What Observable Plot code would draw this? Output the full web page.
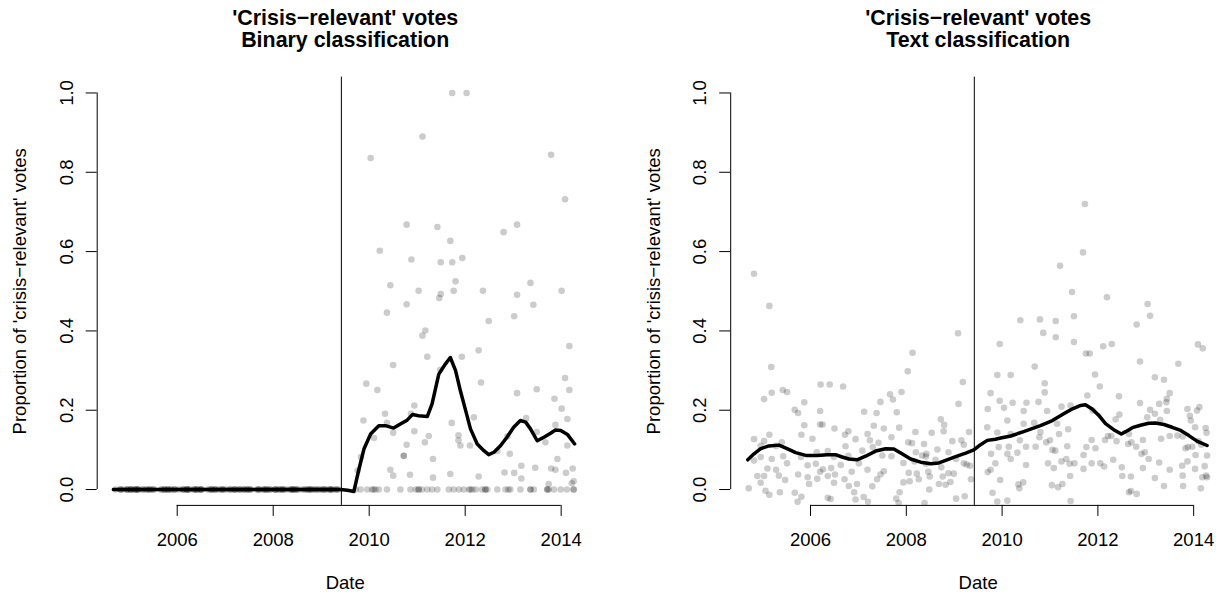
<!DOCTYPE html>
<html>
<head>
<meta charset="utf-8">
<script src="https://cdn.jsdelivr.net/npm/d3@7"></script>
<script src="https://cdn.jsdelivr.net/npm/@observablehq/plot@0.6"></script>
<style>
  html, body { margin: 0; padding: 0; background: #fff; overflow: hidden; }
  #fig { position: relative; width: 1218px; height: 596px; overflow: hidden; background: #fff; }
  #fig > svg { position: absolute; top: 0; }
</style>
</head>
<body>
<div id="fig"></div>
<script>
// Axis ticks and the cut-off date (mid 2009)
const xTicks = [2006, 2008, 2010, 2012, 2014];
const yTicks = [0, 0.2, 0.4, 0.6, 0.8, 1.0];
const cutoff = 2009.42;
const xDomain = [2004.333, 2014.667];
const yDomain = [-0.04, 1.04];

const yLabel = "Proportion of 'crisis\u2212relevant' votes";
const xLabel = "Date";
const titleLine1 = "'Crisis\u2212relevant' votes";
const subtitleBinary = "Binary classification";
const subtitleText = "Text classification";

// Text classification: [date (decimal year), share] per plenary vote (values as plotted, jittered)
const textPoints = [
  [2004.82,0.544],[2005.14,0.463],[2005.18,0.309],[2006.21,0.265],[2006.40,0.265],[2006.68,0.260],[2005.42,0.251],[2005.51,0.246],
  [2005.19,0.244],[2005.03,0.228],[2005.87,0.220],[2005.67,0.201],[2005.74,0.193],[2006.20,0.198],[2005.87,0.162],[2006.20,0.164],
  [2006.25,0.164],[2006.50,0.154],[2006.79,0.147],[2006.72,0.138],[2005.81,0.138],[2005.14,0.138],[2004.82,0.127],[2005.03,0.122],
  [2005.40,0.119],[2006.04,0.128],[2006.94,0.127],[2005.28,0.110],[2004.96,0.110],[2006.73,0.109],[2004.82,0.073],[2004.96,0.082],
  [2005.19,0.077],[2005.43,0.084],[2005.80,0.082],[2006.13,0.094],[2006.36,0.097],[2006.79,0.085],[2006.49,0.082],[2005.51,0.066],
  [2005.94,0.061],[2006.11,0.065],[2006.63,0.062],[2006.26,0.051],[2006.20,0.045],[2006.43,0.054],[2006.86,0.045],[2005.28,0.050],
  [2005.10,0.053],[2005.74,0.038],[2005.94,0.031],[2006.14,0.027],[2006.36,0.034],[2006.51,0.038],[2005.34,0.035],[2004.89,0.034],
  [2005.03,0.034],[2005.47,0.024],[2004.96,0.017],[2004.71,0.003],[2005.97,0.014],[2006.49,0.017],[2006.71,0.026],[2006.80,0.009],
  [2006.97,0.014],[2005.06,-0.003],[2005.36,-0.007],[2005.14,-0.013],[2005.67,-0.008],[2005.81,-0.018],[2005.73,-0.031],[2006.36,-0.021],
  [2006.42,-0.024],[2006.91,-0.007],[2006.94,-0.025],
  [2009.08,0.394],[2008.13,0.345],[2008.03,0.298],[2009.18,0.271],[2007.90,0.246],[2007.66,0.240],[2007.72,0.227],[2007.46,0.221],
  [2009.09,0.216],[2007.12,0.196],[2007.38,0.193],[2007.80,0.195],[2008.72,0.177],[2008.79,0.163],[2009.70,0.203],[2007.32,0.161],
  [2007.53,0.154],[2007.19,0.140],[2007.85,0.156],[2008.19,0.145],[2008.53,0.143],[2008.78,0.147],[2009.31,0.145],[2007.24,0.124],
  [2007.42,0.118],[2007.69,0.132],[2008.04,0.119],[2008.12,0.117],[2008.37,0.115],[2008.96,0.122],[2009.15,0.124],[2009.20,0.113],
  [2008.65,0.101],[2008.20,0.094],[2008.33,0.086],[2008.41,0.083],[2008.42,0.090],[2007.30,0.107],[2007.08,0.098],[2007.50,0.086],
  [2007.69,0.084],[2007.94,0.067],[2008.17,0.071],[2008.41,0.065],[2008.61,0.075],[2009.20,0.066],[2009.26,0.063],[2009.33,0.060],
  [2009.04,0.077],[2008.88,0.094],[2007.01,0.066],[2007.19,0.050],[2007.53,0.046],[2007.46,0.038],[2008.05,0.042],[2008.22,0.040],
  [2008.46,0.045],[2008.49,0.033],[2008.73,0.056],[2008.76,0.033],[2008.88,0.041],[2008.99,0.040],[2008.92,0.019],[2008.82,0.012],
  [2008.68,0.014],[2008.26,0.026],[2008.07,0.021],[2007.39,0.026],[2007.29,0.008],[2007.94,0.018],[2008.48,0.000],[2007.86,-0.007],
  [2007.11,-0.019],[2007.79,-0.023],[2007.20,-0.031],[2007.84,-0.034],[2008.38,-0.034],[2009.04,-0.023],[2009.22,-0.017],[2009.35,0.026],
  [2009.70,0.044],[2009.77,0.090],[2009.69,0.157],
  [2011.73,0.720],[2011.69,0.598],[2011.21,0.564],[2011.46,0.498],[2012.19,0.485],[2011.50,0.437],[2010.38,0.427],[2010.79,0.429],
  [2011.12,0.425],[2010.86,0.395],[2011.12,0.384],[2011.50,0.372],[2009.95,0.367],[2012.11,0.361],[2012.29,0.367],[2011.75,0.343],
  [2011.83,0.343],[2010.68,0.310],[2009.90,0.289],[2010.18,0.289],[2011.94,0.290],[2010.89,0.268],[2012.04,0.260],[2009.76,0.243],
  [2010.89,0.245],[2011.78,0.237],[2012.44,0.235],[2009.95,0.224],[2010.22,0.219],[2010.51,0.219],[2010.76,0.221],[2010.04,0.206],
  [2010.45,0.198],[2010.94,0.198],[2011.24,0.209],[2011.43,0.212],[2011.89,0.199],[2012.45,0.189],[2012.37,0.177],[2010.11,0.174],
  [2010.45,0.166],[2010.67,0.168],[2011.15,0.166],[2009.90,0.144],[2010.18,0.140],[2010.80,0.145],[2011.19,0.140],[2011.38,0.152],
  [2010.37,0.124],[2010.78,0.132],[2011.00,0.124],[2011.87,0.125],[2012.21,0.135],[2012.15,0.125],[2012.28,0.135],[2012.39,0.122],
  [2012.65,0.140],[2009.93,0.107],[2010.14,0.108],[2010.50,0.108],[2010.70,0.108],[2010.92,0.119],[2011.05,0.100],[2011.11,0.098],
  [2011.36,0.109],[2011.76,0.107],[2011.95,0.104],[2012.63,0.115],[2010.11,0.090],[2010.32,0.093],[2009.86,0.066],[2010.18,0.077],
  [2010.50,0.062],[2010.96,0.066],[2011.08,0.054],[2011.24,0.071],[2011.34,0.077],[2011.41,0.065],[2011.51,0.066],[2011.70,0.087],
  [2011.70,0.052],[2011.87,0.066],[2012.05,0.066],[2012.13,0.058],[2012.32,0.075],[2012.50,0.056],[2012.51,0.034],[2009.76,0.050],
  [2009.96,0.024],[2010.34,0.013],[2010.44,0.018],[2011.04,0.011],[2011.17,0.006],[2011.26,0.014],[2011.42,0.034],[2010.36,0.003],
  [2009.80,-0.008],[2009.90,-0.030],[2010.11,-0.028],[2011.43,-0.029],[2012.65,-0.007],
  [2013.04,0.468],[2013.09,0.438],[2012.81,0.416],[2014.09,0.366],[2014.19,0.356],[2012.88,0.323],[2013.68,0.317],[2013.19,0.283],
  [2013.38,0.277],[2013.50,0.243],[2013.44,0.229],[2013.43,0.220],[2012.88,0.218],[2013.28,0.216],[2013.09,0.201],[2013.19,0.191],
  [2013.44,0.198],[2013.87,0.203],[2014.12,0.208],[2014.07,0.199],[2013.03,0.182],[2013.30,0.176],[2013.94,0.174],[2013.92,0.186],
  [2014.03,0.157],[2014.25,0.155],[2014.27,0.143],[2012.70,0.119],[2012.80,0.108],[2012.94,0.125],[2013.32,0.128],[2013.50,0.135],
  [2013.66,0.136],[2013.77,0.134],[2013.88,0.107],[2014.16,0.113],[2014.10,0.122],[2013.83,0.104],[2013.97,0.108],[2012.91,0.090],
  [2013.06,0.077],[2012.98,0.094],[2013.28,0.068],[2014.04,0.087],[2014.28,0.086],[2012.69,0.033],[2012.94,0.054],[2013.19,0.029],
  [2013.50,0.050],[2013.76,0.060],[2013.87,0.071],[2013.77,0.035],[2014.03,0.052],[2014.23,0.059],[2014.26,0.035],[2014.28,0.031],
  [2013.38,0.009],[2013.78,0.009],[2014.18,0.031],[2014.15,0.003],[2012.69,-0.004],[2012.81,-0.011]
];

// Text classification: smoothed trend
const textTrend = [
  [2004.69,0.075],[2004.82,0.090],[2004.96,0.103],[2005.13,0.110],[2005.34,0.112],[2005.51,0.103],[2005.69,0.093],[2005.90,0.086],
  [2006.14,0.086],[2006.35,0.088],[2006.52,0.088],[2006.66,0.082],[2006.80,0.077],[2006.97,0.075],[2007.15,0.084],[2007.36,0.097],
  [2007.57,0.103],[2007.74,0.102],[2007.91,0.090],[2008.09,0.077],[2008.30,0.069],[2008.51,0.065],[2008.68,0.067],[2008.85,0.075],
  [2009.03,0.083],[2009.24,0.092],[2009.41,0.100],[2009.55,0.113],[2009.69,0.124],[2009.86,0.127],[2009.97,0.130],[2010.18,0.135],
  [2010.45,0.146],[2010.80,0.161],[2011.05,0.174],[2011.26,0.189],[2011.46,0.203],[2011.64,0.212],[2011.74,0.214],[2011.88,0.203],
  [2012.02,0.187],[2012.16,0.166],[2012.33,0.151],[2012.49,0.140],[2012.58,0.146],[2012.72,0.156],[2012.89,0.162],[2013.06,0.167],
  [2013.20,0.168],[2013.38,0.164],[2013.55,0.157],[2013.73,0.149],[2013.90,0.136],[2014.07,0.122],[2014.28,0.111]
];

// Binary classification after the cut-off: votes with a non-zero share
const binaryPoints = [
  [2011.73,1.0],[2012.03,1.0],[2011.11,0.890],[2010.03,0.836],[2013.79,0.844],[2014.08,0.732],[2010.78,0.668],[2011.42,0.662],
  [2013.08,0.668],[2012.80,0.649],[2011.69,0.627],[2010.22,0.602],[2011.73,0.573],[2011.49,0.573],[2011.94,0.584],[2010.88,0.580],
  [2011.80,0.525],[2010.44,0.515],[2011.03,0.501],[2011.76,0.501],[2012.37,0.501],[2011.49,0.493],[2011.46,0.483],[2013.08,0.491],
  [2013.36,0.521],[2014.01,0.501],[2013.42,0.466],[2010.78,0.467],[2010.37,0.446],[2013.02,0.437],[2012.49,0.425],[2011.17,0.401],
  [2011.11,0.388],[2014.17,0.362],[2012.28,0.351],[2011.21,0.335],[2011.93,0.335],[2010.50,0.314],[2011.48,0.302],[2009.94,0.267],
  [2012.33,0.270],[2014.08,0.281],[2010.17,0.251],[2014.17,0.251],[2013.49,0.253],[2013.08,0.243],[2013.86,0.229],[2010.94,0.212],
  [2010.33,0.191],[2014.01,0.204],[2009.88,0.174],[2010.87,0.191],[2012.18,0.182],[2013.27,0.180],[2014.13,0.178],[2010.37,0.168],
  [2011.72,0.168],[2010.94,0.147],[2010.50,0.143],[2011.24,0.135],[2010.10,0.130],[2011.86,0.137],[2013.49,0.145],[2013.88,0.163],
  [2012.88,0.134],[2011.86,0.124],[2011.16,0.119],[2011.90,0.111],[2012.10,0.111],[2013.67,0.119],[2010.78,0.113],[2009.83,0.082],
  [2010.72,0.085],[2010.72,0.085],[2012.67,0.097],[2012.93,0.090],[2014.13,0.111],[2011.33,0.077],[2013.92,0.077],[2013.17,0.060],
  [2010.44,0.050],[2012.82,0.043],[2013.02,0.042],[2013.46,0.055],[2013.79,0.053],[2013.88,0.050],[2014.24,0.053],[2014.10,0.042],
  [2009.76,0.048],[2010.50,0.035],[2010.85,0.037],[2011.69,0.039],[2012.28,0.033],[2011.33,0.030],[2013.17,0.028],[2014.26,0.021],
  [2014.22,0.016],[2013.74,0.014]
];

// Binary classification after the cut-off: dates of votes coded 0
const binaryZeroDates = [
  2009.72,2009.82,2009.96,2010.06,2010.09,2010.13,2010.20,2010.37,2010.65,2010.86,2010.97,2011.03,2011.03,2011.10,2011.21,
  2011.31,2011.42,2011.66,2011.76,2011.87,2011.97,2012.08,2012.11,2012.15,2012.22,2012.35,2012.42,2012.42,2012.46,2012.67,
  2012.84,2012.90,2012.94,2013.15,2013.36,2013.36,2013.43,2013.71,2013.71,2013.74,2013.85,2013.99,2014.12,2014.26,2014.26
];

// Binary classification: smoothed trend
const binaryTrend = [
  [2004.67,0],[2005.50,0],[2006.50,0],[2007.50,0],[2008.50,0],[2009.40,0],[2009.55,-0.002],[2009.68,-0.005],
  [2009.78,0.048],[2009.89,0.102],[2010.03,0.140],[2010.20,0.161],[2010.34,0.161],[2010.51,0.155],[2010.65,0.165],[2010.79,0.175],
  [2010.90,0.189],[2011.03,0.186],[2011.21,0.184],[2011.31,0.216],[2011.45,0.291],[2011.59,0.317],[2011.69,0.333],[2011.80,0.300],
  [2011.90,0.249],[2012.01,0.199],[2012.11,0.153],[2012.25,0.115],[2012.39,0.098],[2012.49,0.088],[2012.60,0.094],[2012.74,0.111],
  [2012.87,0.132],[2013.01,0.157],[2013.15,0.174],[2013.26,0.170],[2013.36,0.153],[2013.50,0.123],[2013.64,0.132],[2013.78,0.142],
  [2013.88,0.150],[2013.99,0.149],[2014.13,0.139],[2014.28,0.115]
];

// Before the cut-off the binary scheme codes every vote as 0; these are the same votes as in the text panel
const binaryAll = [
  ...textPoints.filter(d => d[0] < cutoff).map(d => [d[0], 0]),
  ...binaryZeroDates.map(t => [t, 0]),
  ...binaryPoints
];

const FONT = "'Liberation Sans', Arial, Helvetica, sans-serif";
const FS = 18.5;

function panel({subtitle, points, trend, left, width, marginLeft, marginRight}) {
  const svg = Plot.plot({
    width,
    height: 596,
    marginLeft,
    marginRight,
    marginTop: 76.6,
    marginBottom: 91.1,
    x: {domain: xDomain},
    y: {domain: yDomain},
    style: {fontFamily: FONT, fontSize: FS + "px", color: "black", background: "white"},
    marks: [
      Plot.dot(points, {x: d => d[0], y: d => d[1], r: 3.3, fill: "black", fillOpacity: 0.2, stroke: "none", clip: true}),
      Plot.ruleX([cutoff], {y1: yDomain[0], y2: yDomain[1], stroke: "black", strokeWidth: 1}),
      Plot.line(trend, {x: d => d[0], y: d => d[1], stroke: "black", strokeWidth: 3.5, strokeLinejoin: "round"}),
      // y axis: line from 0 to 1, ticks and rotated labels
      Plot.ruleX([xDomain[0]], {y1: 0, y2: 1, stroke: "black", strokeWidth: 1}),
      Plot.axisY({ticks: yTicks, tickSize: 11, tickRotate: -90, tickPadding: 13.7, tickFormat: d => d.toFixed(1), label: null, fontSize: FS}),
      // x axis: line from first to last tick
      Plot.ruleY([yDomain[0]], {x1: xTicks[0], x2: xTicks[xTicks.length - 1], stroke: "black", strokeWidth: 1}),
      Plot.axisX({ticks: xTicks, tickSize: 11, tickPadding: 16.3, tickFormat: d => String(d), label: null, fontSize: FS}),
      Plot.text([yLabel], {frameAnchor: "left", rotate: -90, dx: -77, text: d => d, fontSize: FS,
                           textAnchor: "middle", lineAnchor: "middle", fill: "black"}),
      Plot.text([xLabel], {frameAnchor: "bottom", dy: 78, text: d => d, fontSize: FS,
                           textAnchor: "middle", lineAnchor: "middle", fill: "black"}),
      // two-line bold title
      Plot.text([titleLine1], {frameAnchor: "top", dy: -52, lineAnchor: "bottom", textAnchor: "middle",
                               fontWeight: "bold", fontSize: 21.4, text: d => d, fill: "black"}),
      Plot.text([subtitle], {frameAnchor: "top", dy: -29.9, lineAnchor: "bottom", textAnchor: "middle",
                             fontWeight: "bold", fontSize: 21.4, text: d => d, fill: "black"})
    ]
  });
  svg.style.left = left + "px";
  document.getElementById("fig").appendChild(svg);
}

panel({subtitle: subtitleBinary, points: binaryAll, trend: binaryTrend, left: 0, width: 609, marginLeft: 96.7, marginRight: 16.3});
panel({subtitle: subtitleText, points: textPoints, trend: textTrend, left: 609, width: 620, marginLeft: 121.2, marginRight: 3.9});
</script>
</body>
</html>
